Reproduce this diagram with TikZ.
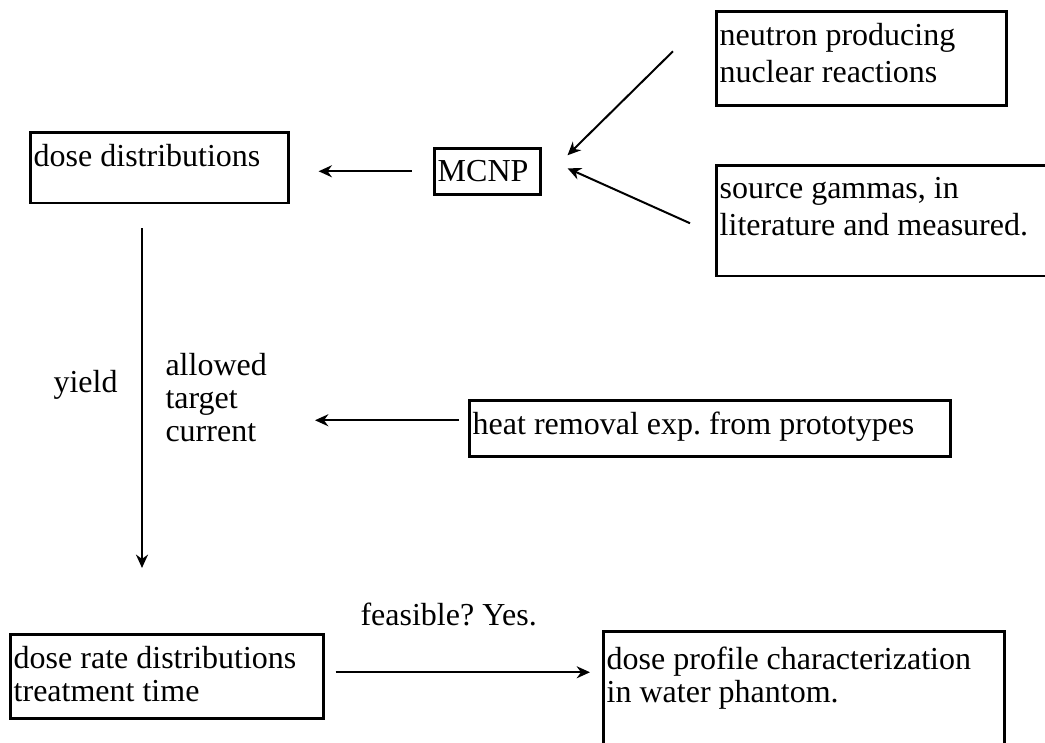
\documentclass[tikz,border=0pt]{standalone}
\usepackage{fontspec}
\setmainfont{Liberation Serif}
\usetikzlibrary{arrows.meta,calc}
\frenchspacing
\newcommand{\boxtext}[3]{\parbox[c][#2][t]{\dimexpr#1-2.6pt\relax}{\vspace{4.5pt}#3}}
\begin{document}
\begin{tikzpicture}[x=0.375pt, y=-0.375pt, font=\fontsize{12}{12.4}\selectfont,
    box/.style={draw, line width=0.95pt, anchor=north west, inner xsep=1.3pt, inner ysep=0pt},
    arr/.style={-{Stealth[length=5pt,width=4.5pt]}, line width=0.75pt}]
        \useasboundingbox (0,0) rectangle (1045,742);
        \clip (0,0) rectangle (1045,742);

        % Cajas de arriba
        \node[box] (neu) at (715,10) {\boxtext{108.75pt}{35.25pt}{\baselineskip=13.9pt neutron producing\\nuclear reactions}};
        \node[box] (src) at (715,164) {\boxtext{127.5pt}{41.6pt}{\baselineskip=13.9pt source gammas, in\\literature and measured.}};
        \node[box] (mcnp) at (433,147) {\boxtext{39.75pt}{17.25pt}{MCNP}};
        \node[box] (dose) at (29,131) {\boxtext{96.75pt}{26.6pt}{dose distributions}};

        % Caja del medio
        \node[box] (heat) at (468,399) {\boxtext{180.4pt}{21pt}{heat removal exp. from prototypes}};

        % Cajas de abajo
        \node[box] (rate) at (9,633) {\boxtext{117.4pt}{31.5pt}{dose rate distributions\\treatment time}};
        \node[box] (prof) at (602,630) {\boxtext{150.4pt}{48.75pt}{\vspace{1.2pt}dose profile characterization\\in water phantom.}};

        % Etiquetas
        \node[anchor=base west, inner sep=0pt] (yield) at (53,392) {yield};
        \node[anchor=north west, inner sep=0pt, align=left] (allow) at (165,353) {allowed\\target\\current};
        \node[anchor=base west, inner sep=0pt] (feas) at (360,625) {feasible? Yes.};

        % Flechas
        \draw[arr] ($(neu.west)+(-42,-7)$) -- ($(mcnp.east)+(26,-16)$);
        \draw[arr] ($(src.west)+(-25,2.5)$) -- ($(mcnp.east)+(26,-3)$);
        \draw[arr, shorten <=7.9pt, shorten >=10.9pt] (mcnp.west) -- (mcnp.west -| dose.east);
        \draw[arr, shorten >=24.4pt] ($(dose.south west)+(113,24)$) coordinate (v0) -- (v0 |- rate.north);
        \draw[arr] ($(heat.west)+(-9,-8)$) -- ++(-144,0);
        \draw[arr, shorten >=4.5pt] ($(rate.east)+(11,-4)$) coordinate (h0) -- (h0 -| prof.west);
    \end{tikzpicture}
\end{document}
